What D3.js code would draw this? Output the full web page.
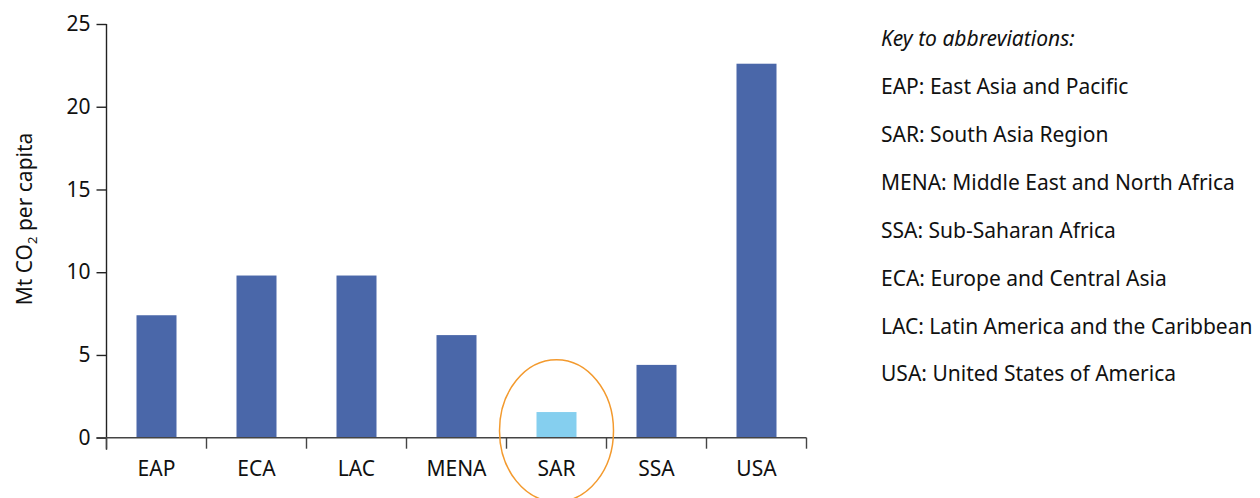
<!DOCTYPE html>
<html><head><meta charset="utf-8">
<script src="https://cdn.jsdelivr.net/npm/d3@7/dist/d3.min.js"></script>
<style>body{margin:0;background:#fff}svg{display:block}text{font-family:"Noto Sans",sans-serif;fill:#111}</style>
</head><body><svg id="c" width="1260" height="498"></svg>
<script>
const categories = ["EAP","ECA","LAC","MENA","SAR","SSA","USA"];
const values = [7.4, 9.8, 9.8, 6.2, 1.55, 4.4, 22.6];
const highlighted = ["SAR"];
const yTicks = [0,5,10,15,20,25];
const keyTitle = "Key to abbreviations:";
const keyItems = ["EAP: East Asia and Pacific","SAR: South Asia Region","MENA: Middle East and North Africa","SSA: Sub-Saharan Africa","ECA: Europe and Central Asia","LAC: Latin America and the Caribbean","USA: United States of America"];

const svg = d3.select("#c");
const x0 = 106.5, x1 = 806.5, yBot = 437.7, yTop = 24;
const x = d3.scaleBand().domain(categories).range([x0,x1]).paddingInner(0.6).paddingOuter(0.3);
const y = d3.scaleLinear().domain([0,25]).range([yBot,yTop]);
const fs = 21;

// bars
svg.append("g").selectAll("rect").data(categories).join("rect")
  .attr("x", d=>x(d)).attr("width", x.bandwidth())
  .attr("y", (d,i)=>y(values[i])).attr("height",(d,i)=>y(0)-y(values[i]))
  .attr("fill", d=>highlighted.includes(d)?"#85CFEF":"#4A67A9");

// y axis
const ya = svg.append("g").attr("transform",`translate(${x0},0)`)
  .call(d3.axisLeft(y).tickValues(yTicks).tickSize(10).tickPadding(6));
ya.select(".domain").remove();
ya.append("line").attr("x1",0).attr("x2",0).attr("y1",yTop).attr("y2",yBot+12).attr("stroke","#222").attr("stroke-width",1.4);
ya.selectAll(".tick line").attr("stroke","#222").attr("stroke-width",1.4);
ya.selectAll(".tick text").style("font-size",fs+"px").style("font-family","'Noto Sans',sans-serif").attr("fill","#111");

// x axis
const xb = d3.scalePoint().domain(d3.range(categories.length+1)).range([x0,x1]);
const xa = svg.append("g").attr("transform",`translate(0,${yBot})`);
xa.append("line").attr("x1",x0-10).attr("x2",x1).attr("y1",0).attr("y2",0).attr("stroke","#444").attr("stroke-width",1.6);
xa.selectAll("line.t").data(d3.range(categories.length+1)).join("line").attr("class","t")
  .attr("x1",d=>xb(d)).attr("x2",d=>xb(d)).attr("y1",0).attr("y2",11).attr("stroke","#444").attr("stroke-width",1.4);
xa.selectAll("text").data(categories).join("text")
  .attr("x",d=>x(d)+x.bandwidth()/2).attr("y",38).attr("text-anchor","middle")
  .style("font-size",fs+"px").text(d=>d);

// y label
const yl = svg.append("text").attr("transform","translate(32,219) rotate(-90)").attr("text-anchor","middle").style("font-size",fs+"px");
yl.append("tspan").text("Mt CO");
yl.append("tspan").text("2").style("font-size","13px").attr("dy",5);
yl.append("tspan").text(" per capita").attr("dy",-5);

// highlight ellipse
const sx = x("SAR")+x.bandwidth()/2;
svg.append("ellipse").attr("cx",sx).attr("cy",y(0)-7).attr("rx",57).attr("ry",71)
  .attr("fill","none").attr("stroke","#F39A2E").attr("stroke-width",1.5);

// key
const kg = svg.append("g").attr("transform","translate(881,0)");
kg.append("text").attr("y",46).style("font-size",fs+"px").style("font-style","italic").text(keyTitle);
kg.selectAll("text.k").data(keyItems).join("text").attr("class","k")
  .attr("y",(d,i)=>94+i*47.9).style("font-size",fs+"px").text(d=>d);
</script></body></html>
